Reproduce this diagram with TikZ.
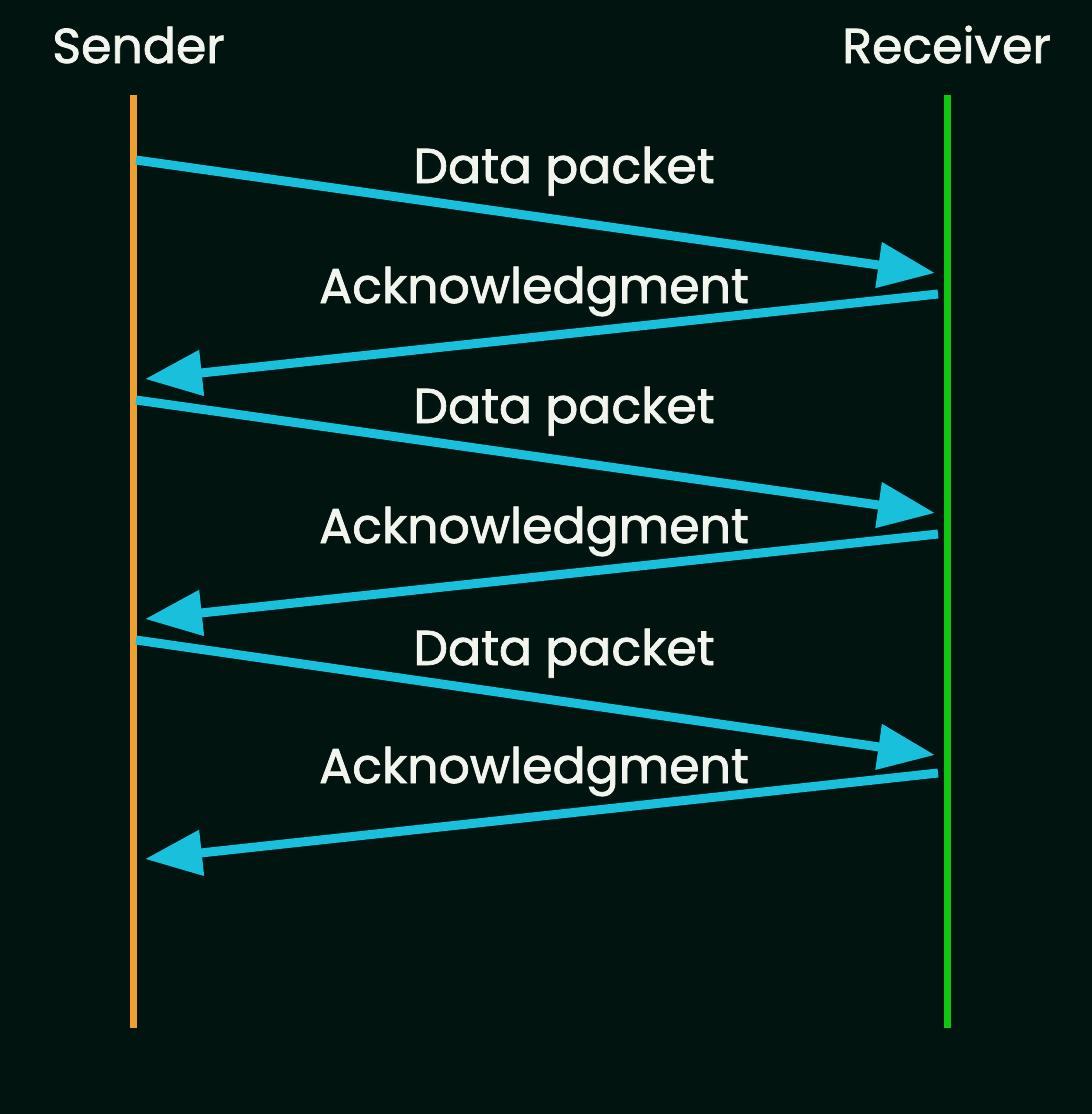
\documentclass[tikz,border=0pt]{standalone}
\usepackage{fontspec}
\setmainfont{Poppins}
\newfontfamily\lblfont[FakeBold=1.6]{Poppins}
\usetikzlibrary{arrows.meta}
\definecolor{bg}{HTML}{02140F}
\definecolor{sendc}{HTML}{F0A030}
\definecolor{recvc}{HTML}{10C810}
\definecolor{msgc}{HTML}{18C0DC}
\definecolor{txt}{HTML}{F2F5EE}
\tikzset{
  life/.style={line width=7pt},
  msg/.style={draw=msgc, line width=9pt, -{Triangle[length=57pt,width=44pt]}},
  lbl/.style={text=txt, font=\lblfont\fontsize{49}{58}\selectfont, inner sep=0pt, anchor=base},
  head/.style={text=txt, font=\lblfont\fontsize{49}{58}\selectfont, inner sep=0pt, anchor=base}
}
\begin{document}
\begin{tikzpicture}[x=1pt,y=-1pt]
\fill[bg] (0,0) rectangle (1092,1114);
\useasboundingbox (0,0) rectangle (1092,1114);
\node[head] (sender) at (138.5,63) {Sender};
\node[head] (receiver) at (946.5,63) {Receiver};
\coordinate (st) at (133,95);
\coordinate (sb) at (133,1028);
\coordinate (rt) at (947,95);
\coordinate (rb) at (947,1028);
\draw[life, sendc] (st) -- (sb);
\draw[life, recvc] (rt) -- (rb);
% message endpoints
\coordinate (d1s) at (136,160); \coordinate (d1e) at (935,273);
\coordinate (a1s) at (938,294); \coordinate (a1e) at (145,379);
\coordinate (d2s) at (136,400); \coordinate (d2e) at (935,513);
\coordinate (a2s) at (938,534); \coordinate (a2e) at (145,619);
\coordinate (d3s) at (136,640); \coordinate (d3e) at (935,755);
\coordinate (a3s) at (938,773); \coordinate (a3e) at (145,859);
\draw[msg] (d1s) -- (d1e);
\draw[msg] (a1s) -- (a1e);
\draw[msg] (d2s) -- (d2e);
\draw[msg] (a2s) -- (a2e);
\draw[msg] (d3s) -- (d3e);
\draw[msg] (a3s) -- (a3e);
\node[lbl] (l1) at (564,183) {Data packet};
\node[lbl] (l2) at (534,303) {Acknowledgment};
\node[lbl] (l3) at (564,423) {Data packet};
\node[lbl] (l4) at (534,543) {Acknowledgment};
\node[lbl] (l5) at (564,665) {Data packet};
\node[lbl] (l6) at (534,783) {Acknowledgment};
\end{tikzpicture}
\end{document}
